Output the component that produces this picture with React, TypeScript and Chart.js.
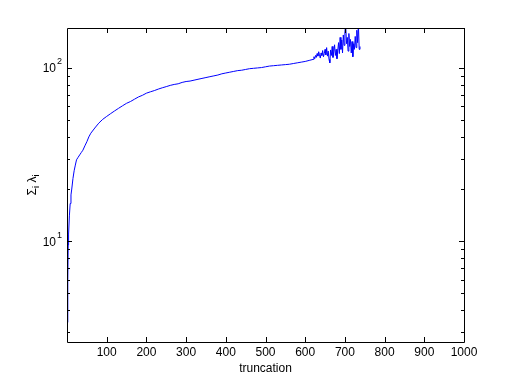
import React, { useEffect, useRef } from "react";
import { Chart, registerables } from "chart.js";

Chart.register(...registerables);

// truncation index (x) and cumulative eigenvalue sum (y)
const truncation: number[] = [
  1, 2, 3, 4, 6, 8, 10, 12, 15, 18, 21, 24, 28, 32, 36, 40, 45, 50, 55, 60,
  70, 80, 90, 100, 110, 120, 130, 140, 150, 160, 170, 180, 190, 200, 210, 220,
  230, 240, 250, 260, 270, 280, 290, 300, 310, 320, 330, 340, 350, 360, 370,
  380, 390, 400, 410, 420, 430, 440, 450, 460, 470, 480, 490, 500, 510, 520,
  530, 540, 550, 560, 570, 580, 590, 600, 610, 620,
  622, 624, 626, 628, 630, 632, 634, 636, 638, 640, 642, 644, 646, 648, 650,
  652, 654, 656, 658, 660, 662, 664, 666, 668, 670, 672, 674, 676, 678, 680,
  682, 684, 686, 688, 690, 692, 694, 696, 698, 700, 702, 704, 706, 708, 710,
  712, 714, 716, 718, 720, 722, 724, 726, 728, 730, 732, 734, 736, 738,
];

const sumLambda: number[] = [
  3.4, 6, 9.5, 11, 14, 16.5, 18.5, 20, 23, 25.5, 27.5, 29.5, 30.5, 31.5, 32.5,
  33.5, 35.5, 37.5, 40, 42, 45, 48, 50.5, 52.5, 54.5, 56.5, 58.5, 60.5, 62.5,
  64, 66, 68, 69.5, 71.5, 72.8, 74, 75.5, 76.8, 78, 79.3, 80.3, 81, 82.5, 83.5,
  84, 85, 86, 87, 88, 89, 90, 91, 92.5, 93.5, 94.5, 95.5, 96.5, 97, 98, 99,
  99.5, 100, 100.5, 101.5, 102.5, 103, 103.5, 104, 104.5, 105, 106, 107, 108,
  109, 110.5, 112,
  116, 113, 118, 115, 121, 117, 124, 119, 114, 122, 118, 126, 116, 121, 128,
  119, 131, 117, 125, 112, 107, 127, 118, 133, 115, 124, 136, 118, 128, 113,
  126, 140, 121, 150, 128, 145, 122, 155, 135, 162, 178, 138, 150, 125, 158,
  133, 146, 122, 142, 116, 138, 128, 152, 131, 165, 140, 180, 128, 133,
];

const xTicks: number[] = [100, 200, 300, 400, 500, 600, 700, 800, 900, 1000];
const yMajor: number[] = [10, 100];
const yMinor: number[] = [3, 4, 5, 6, 7, 8, 9, 20, 30, 40, 50, 60, 70, 80, 90];
const xTitle = "truncation";

const FONT = '"Liberation Sans", Arial, Helvetica, sans-serif';

const axesPlugin = {
  id: "matlabAxes",
  afterDraw(chart: any) {
    const ctx = chart.ctx as CanvasRenderingContext2D;
    const { left, right, top, bottom } = chart.chartArea;
    const xs = chart.scales.x;
    const ys = chart.scales.y;
    ctx.save();
    ctx.strokeStyle = "#000";
    ctx.fillStyle = "#000";
    ctx.lineWidth = 1;
    // box
    ctx.beginPath();
    ctx.rect(Math.round(left) + 0.5, Math.round(top) + 0.5, Math.round(right - left), Math.round(bottom - top));
    ctx.stroke();
    // x ticks
    ctx.beginPath();
    for (const v of xTicks) {
      const px = Math.round(xs.getPixelForValue(v)) + 0.5;
      ctx.moveTo(px, bottom);
      ctx.lineTo(px, bottom - 5);
      ctx.moveTo(px, top);
      ctx.lineTo(px, top + 5);
    }
    for (const v of yMajor) {
      const py = Math.round(ys.getPixelForValue(v)) + 0.5;
      ctx.moveTo(left, py);
      ctx.lineTo(left + 5, py);
      ctx.moveTo(right, py);
      ctx.lineTo(right - 5, py);
    }
    for (const v of yMinor) {
      const py = Math.round(ys.getPixelForValue(v)) + 0.5;
      ctx.moveTo(left, py);
      ctx.lineTo(left + 3, py);
      ctx.moveTo(right, py);
      ctx.lineTo(right - 3, py);
    }
    ctx.stroke();
    // x tick labels
    ctx.font = `12px ${FONT}`;
    ctx.textAlign = "center";
    ctx.textBaseline = "middle";
    for (const v of xTicks) {
      ctx.fillText(String(v), xs.getPixelForValue(v), bottom + 11);
    }
    // x title
    ctx.fillText(xTitle, (left + right) / 2, bottom + 27);
    // y tick labels 10^n
    for (const v of yMajor) {
      const py = ys.getPixelForValue(v);
      const exp = String(Math.round(Math.log10(v)));
      ctx.font = `9px ${FONT}`;
      const ew = ctx.measureText(exp).width;
      ctx.textAlign = "left";
      const ex = left - 5 - ew;
      ctx.fillText(exp, ex, py - 6);
      ctx.font = `12px ${FONT}`;
      ctx.textAlign = "right";
      ctx.fillText("10", ex - 1, py + 1);
    }
    // y title: Σ_i λ_i
    ctx.translate(33, (top + bottom) / 2);
    ctx.rotate(-Math.PI / 2);
    const parts: [string, number, number][] = [
      ["Σ", 12, 0],
      ["i", 9, 4],
      [" ", 12, 0],
      ["λ", 12, 0],
      ["i", 9, 4],
    ];
    let total = 0;
    for (const [t, s] of parts) {
      ctx.font = `${s}px ${FONT}`;
      total += ctx.measureText(t).width;
    }
    let cx = -total / 2;
    ctx.textAlign = "left";
    for (const [t, s, dy] of parts) {
      ctx.font = `${s}px ${FONT}`;
      ctx.fillText(t, cx, dy);
      cx += ctx.measureText(t).width;
    }
    ctx.restore();
  },
};

export default function App() {
  const ref = useRef<HTMLCanvasElement | null>(null);
  useEffect(() => {
    if (!ref.current) return;
    const points = truncation.map((x, i) => ({ x, y: sumLambda[i] }));
    const chart = new Chart(ref.current, {
      type: "line",
      data: {
        datasets: [
          {
            data: points,
            borderColor: "#0000ff",
            borderWidth: 1,
            pointRadius: 0,
            tension: 0,
            fill: false,
            clip: 0,
          } as any,
        ],
      },
      options: {
        responsive: false,
        animation: false,
        devicePixelRatio: 1,
        layout: { padding: { left: 67, right: 48, top: 28, bottom: 42 } },
        plugins: { legend: { display: false }, tooltip: { enabled: false } },
        scales: {
          x: { type: "linear", min: 0, max: 1000, display: false },
          y: { type: "logarithmic", min: 2.62, max: 170, display: false },
        },
      },
      plugins: [axesPlugin],
    });
    return () => chart.destroy();
  }, []);
  return (
    <div style={{ position: "absolute", left: 0, top: 0, width: 512, height: 384, background: "#fff" }}>
      <canvas ref={ref} width={512} height={384} style={{ display: "block" }} />
    </div>
  );
}
